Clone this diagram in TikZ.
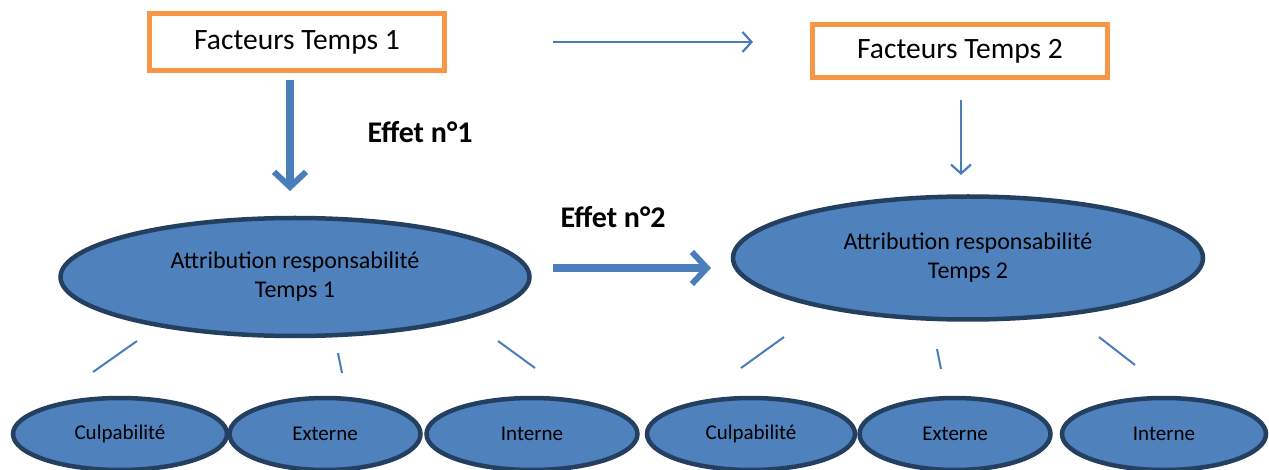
\documentclass[tikz,border=0pt]{standalone}
\usepackage{fontspec}
\setmainfont{Carlito}
\usetikzlibrary{shapes.geometric,arrows.meta}
\definecolor{boxorange}{HTML}{F79646}
\definecolor{ellfill}{HTML}{4F81BD}
\definecolor{elldraw}{HTML}{243F60}
\definecolor{arrblue}{HTML}{4A7EBB}
\tikzset{
  factbox/.style={draw=boxorange, line width=4.5pt, fill=white, minimum width=295pt, inner sep=0pt, font=\fontsize{29.5}{35}\selectfont},
  bigell/.style={ellipse, draw=elldraw, fill=ellfill, line width=4.5pt, inner sep=0pt, align=center, font=\fontsize{24}{29}\selectfont},
  smallell/.style={ellipse, draw=elldraw, fill=ellfill, line width=4.5pt, minimum height=72pt, inner sep=0pt, font=\fontsize{21}{25}\selectfont},
  thinarr/.style={draw=arrblue, line width=2.2pt, -{Straight Barb[length=9pt,width=20pt,line width=2.2pt]}},
  thickarr/.style={draw=arrblue, line width=8pt, -{Straight Barb[length=15pt,width=32pt,line width=6pt]}},
  tick/.style={draw=arrblue, line width=2pt},
  effet/.style={font=\fontsize{30}{36}\selectfont\bfseries, inner sep=0pt}
}
\begin{document}
\begin{tikzpicture}[x=1pt,y=-1pt]
\useasboundingbox (0,0) rectangle (1269,470);
% boxes
\node[factbox, minimum height=57pt] (b1) at (297,42) {Facteurs Temps 1};
\node[factbox, minimum height=53pt] (b2) at (960,51) {Facteurs Temps 2};
% big ellipses
\node[bigell, minimum width=469pt, minimum height=118pt] (e1) at (295,277) {Attribution responsabilité\\Temps 1};
\node[bigell, minimum width=470pt, minimum height=123pt] (e2) at (968,258) {Attribution responsabilité\\Temps 2};
% labels
\node[effet] (l1) at (420,132) {Effet n°1};
\node[effet] (l2) at (613,217) {Effet n°2};
% arrows
\coordinate (a1s) at (290,80);  \coordinate (a1e) at (290,191);
\coordinate (a2s) at (553,42);  \coordinate (a2e) at (753,42);
\coordinate (a3s) at (553,268); \coordinate (a3e) at (711,268);
\coordinate (a4s) at (961,100); \coordinate (a4e) at (961,175);
\draw[thickarr] (a1s) -- (a1e);
\draw[thinarr] (a2s) -- (a2e);
\draw[thickarr] (a3s) -- (a3e);
\draw[thinarr] (a4s) -- (a4e);
% small ellipses
\node[smallell, minimum width=214pt] (c1) at (120,434) {Culpabilité};
\node[smallell, minimum width=191pt] (x1) at (325,434) {Externe};
\node[smallell, minimum width=211pt] (i1) at (532,434) {Interne};
\node[smallell, minimum width=208pt] (c2) at (751,434) {Culpabilité};
\node[smallell, minimum width=191pt] (x2) at (955,434) {Externe};
\node[smallell, minimum width=204pt] (i2) at (1164,434) {Interne};
% ticks
\coordinate (t1a) at (93,372);  \coordinate (t1b) at (137,341);
\coordinate (t2a) at (338,353); \coordinate (t2b) at (342,373);
\coordinate (t3a) at (498,341); \coordinate (t3b) at (535,368);
\coordinate (t4a) at (741,368); \coordinate (t4b) at (784,337);
\coordinate (t5a) at (937,349); \coordinate (t5b) at (941,369);
\coordinate (t6a) at (1099,337);\coordinate (t6b) at (1135,365);
\draw[tick] (t1a) -- (t1b);
\draw[tick] (t2a) -- (t2b);
\draw[tick] (t3a) -- (t3b);
\draw[tick] (t4a) -- (t4b);
\draw[tick] (t5a) -- (t5b);
\draw[tick] (t6a) -- (t6b);
\end{tikzpicture}
\end{document}
